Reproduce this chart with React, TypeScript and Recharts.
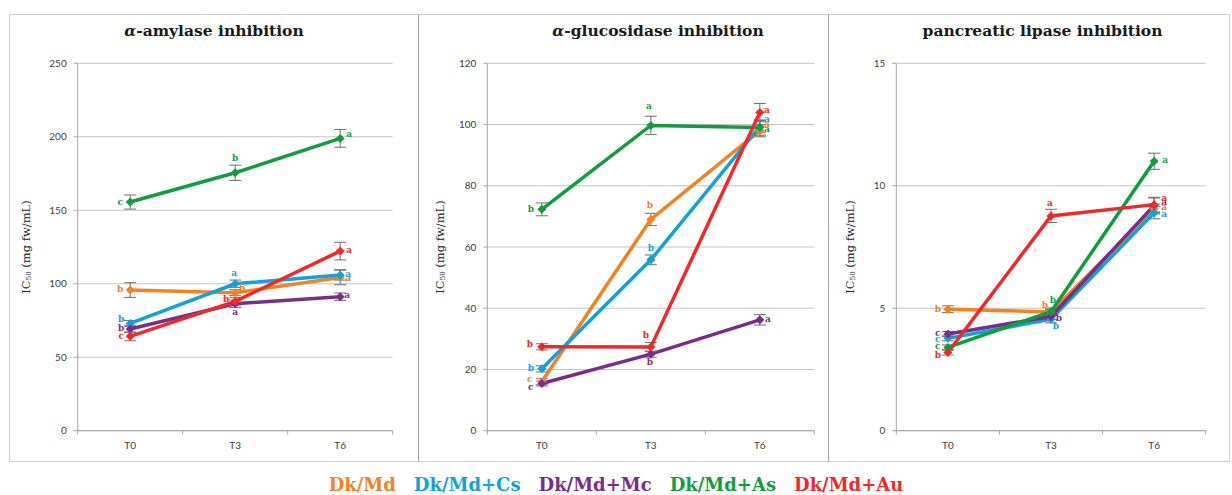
import React from "react"
import { LineChart, Line, XAxis, YAxis, CartesianGrid, ErrorBar, LabelList } from "recharts"

const timePoints = ["T0", "T3", "T6"]

// α-amylase
const amyMd = [95.7, 93.9, 104.3]
const amyMdErr = [5, 2, 5]
const amyMdSig = ["b", "b", "a"]
const amyCs = [73, 100, 106]
const amyCsErr = [2, 2.5, 3.5]
const amyCsSig = ["b", "a", "a"]
const amyMc = [69.2, 86.4, 91.2]
const amyMcErr = [2.5, 2.5, 2.5]
const amyMcSig = ["b", "a", "a"]
const amyAs = [155.6, 175.5, 198.9]
const amyAsErr = [4.8, 5.2, 6]
const amyAsSig = ["c", "b", "a"]
const amyAu = [64.2, 88, 122.2]
const amyAuErr = [3, 2.5, 6]
const amyAuSig = ["c", "b", "a"]

// α-glucosidase
const gluMd = [16, 69, 98]
const gluMdErr = [1, 2, 2]
const gluMdSig = ["c", "b", "a"]
const gluCs = [20.2, 55.8, 99.3]
const gluCsErr = [1, 1.6, 2]
const gluCsSig = ["b", "b", "a"]
const gluMc = [15.4, 25, 36.2]
const gluMcErr = [0.8, 1, 1.7]
const gluMcSig = ["c", "b", "a"]
const gluAs = [72.3, 99.7, 99]
const gluAsErr = [2.1, 3, 2.5]
const gluAsSig = ["b", "a", "a"]
const gluAu = [27.4, 27.3, 103.9]
const gluAuErr = [1, 1.5, 3]
const gluAuSig = ["b", "b", "a"]

// pancreatic lipase
const lipMd = [4.96, 4.85, 9.05]
const lipMdErr = [0.14, 0.1, 0.2]
const lipMdSig = ["b", "b", "a"]
const lipCs = [3.77, 4.55, 8.9]
const lipCsErr = [0.1, 0.15, 0.25]
const lipCsSig = ["c", "b", "a"]
const lipMc = [3.95, 4.66, 9.2]
const lipMcErr = [0.1, 0.12, 0.3]
const lipMcSig = ["c", "b", "a"]
const lipAs = [3.4, 4.86, 11.0]
const lipAsErr = [0.1, 0.15, 0.33]
const lipAsSig = ["c", "b", "a"]
const lipAu = [3.19, 8.77, 9.23]
const lipAuErr = [0.1, 0.27, 0.3]
const lipAuSig = ["b", "a", "a"]

const amyTicks = [0, 50, 100, 150, 200, 250]
const gluTicks = [0, 20, 40, 60, 80, 100, 120]
const lipTicks = [0, 5, 10, 15]

const seriesKeys = ["md", "cs", "mc", "as", "au"]
const seriesNames = ["Dk/Md", "Dk/Md+Cs", "Dk/Md+Mc", "Dk/Md+As", "Dk/Md+Au"]
const colors = ["#f6821f", "#0ea3dd", "#7a2c8a", "#0f9e3e", "#f52626"]

const buildRows = (vals: number[][], errs: number[][], sigs: string[][]) =>
	timePoints.map((t, i) => {
		const row: any = { t }
		seriesKeys.forEach((k, s) => {
			row[k] = vals[s][i]
			row[k + "_e"] = errs[s][i]
			row[k + "_l"] = sigs[s][i]
		})
		return row
	})

const amyRows = buildRows(
	[amyMd, amyCs, amyMc, amyAs, amyAu],
	[amyMdErr, amyCsErr, amyMcErr, amyAsErr, amyAuErr],
	[amyMdSig, amyCsSig, amyMcSig, amyAsSig, amyAuSig]
)
const gluRows = buildRows(
	[gluMd, gluCs, gluMc, gluAs, gluAu],
	[gluMdErr, gluCsErr, gluMcErr, gluAsErr, gluAuErr],
	[gluMdSig, gluCsSig, gluMcSig, gluAsSig, gluAuSig]
)
const lipRows = buildRows(
	[lipMd, lipCs, lipMc, lipAs, lipAu],
	[lipMdErr, lipCsErr, lipMcErr, lipAsErr, lipAuErr],
	[lipMdSig, lipCsSig, lipMcSig, lipAsSig, lipAuSig]
)

// letter placement next to each point, [dx, dy] per series per time point
const amyLetterPos = [
	[[-10, -1], [7, -5], [8, 1]],
	[[-9, -4], [-1, -11], [8, -1]],
	[[-9, -1], [0, 8], [7, -2]],
	[[-10, 0], [0, -15], [9, -4]],
	[[-9, 0], [-9, -2], [9, -1]],
]
const gluLetterPos = [
	[[-12, -3], [-1, -14], [7, -7]],
	[[-11, -1], [0, -12], [7, -8]],
	[[-11, 3], [-1, 8], [8, -1]],
	[[-11, 0], [-2, -19], [7, 1]],
	[[-12, -3], [-5, -12], [7, -3]],
]
const lipLetterPos = [
	[[-10, 0], [-6, -7], [10, -2]],
	[[-10, 1], [5, 7], [10, 1]],
	[[-10, -1], [8, 1], [10, -3]],
	[[-10, -1], [2, -12], [11, -1]],
	[[-10, 2], [-1, -13], [10, -7]],
]

const TOP = 14
const HEIGHT = 448
const PLOT_TOP = 63.3
const PLOT_BOTTOM = 430.7
const Y_AXIS_W = 40
const X_AXIS_H = 20
const AXIS_GRAY = "#a6a6a6"
const GRID_GRAY = "#c4c4c4"

type PanelProps = {
	rows: any[]
	ticks: number[]
	letterPos: number[][][]
	left: number
	width: number
	plotLeft: number
	plotRight: number
}

const diamond = (color: string) => (p: any) => {
	const r = 4.5
	return (
		<path
			key={`dot-${p.index}`}
			d={`M${p.cx},${p.cy - r}L${p.cx + r},${p.cy}L${p.cx},${p.cy + r}L${p.cx - r},${p.cy}Z`}
			fill={color}
		/>
	)
}

const letter = (color: string, pos: number[][]) => (p: any) => {
	const [dx, dy] = pos[p.index] || [0, 0]
	return (
		<text
			key={`lab-${p.index}`}
			x={p.x + dx}
			y={p.y + dy}
			textAnchor="middle"
			dominantBaseline="central"
			fontFamily="DejaVu Serif"
			fontWeight="bold"
			fontSize={9}
			fill={color}
		>
			{p.value}
		</text>
	)
}

const Panel: React.FC<PanelProps> = ({ rows, ticks, letterPos, left, width, plotLeft, plotRight }) => {
	const plotW = plotRight - plotLeft
	const half = plotW / 6
	const XTick = (p: any) => (
		<g>
			<line x1={p.x - half} x2={p.x - half} y1={p.y} y2={p.y + 4} stroke={AXIS_GRAY} />
			{p.index === timePoints.length - 1 && (
				<line x1={p.x + half} x2={p.x + half} y1={p.y} y2={p.y + 4} stroke={AXIS_GRAY} />
			)}
			<text x={p.x} y={p.y + 18} textAnchor="middle" fontFamily="Lato" fontSize={10} fill="#404040">
				{p.payload.value}
			</text>
		</g>
	)
	return (
		<div style={{ position: "absolute", left, top: TOP }}>
			<LineChart
				width={width}
				height={HEIGHT}
				data={rows}
				margin={{
					top: PLOT_TOP - TOP,
					left: plotLeft - left - Y_AXIS_W,
					right: left + width - plotRight,
					bottom: TOP + HEIGHT - PLOT_BOTTOM - X_AXIS_H,
				}}
			>
				<CartesianGrid vertical={false} stroke={GRID_GRAY} />
				<XAxis
					dataKey="t"
					height={X_AXIS_H}
					padding={{ left: half, right: half }}
					axisLine={{ stroke: AXIS_GRAY }}
					tickLine={false}
					tickSize={0}
					tickMargin={0}
					tick={XTick}
					interval={0}
				/>
				<YAxis
					width={Y_AXIS_W}
					domain={[ticks[0], ticks[ticks.length - 1]]}
					ticks={ticks}
					interval={0}
					axisLine={{ stroke: AXIS_GRAY }}
					tickLine={{ stroke: AXIS_GRAY }}
					tickSize={4}
					tickMargin={7}
					tick={{ fontFamily: "Lato", fontSize: 10, fill: "#404040" }}
				/>
				{seriesKeys.map((k, s) => (
					<Line
						key={k}
						dataKey={k}
						stroke={colors[s]}
						strokeWidth={3.5}
						dot={diamond(colors[s])}
						activeDot={false}
						isAnimationActive={false}
					>
						<ErrorBar dataKey={k + "_e"} width={6} stroke="#6f6f6f" strokeWidth={1} direction="y" />
						<LabelList dataKey={k + "_l"} content={letter(colors[s], letterPos[s])} />
					</Line>
				))}
			</LineChart>
		</div>
	)
}

const titles = [
	{ x: 214, text: "-amylase inhibition", alpha: true },
	{ x: 658, text: "-glucosidase inhibition", alpha: true },
	{ x: 1042.5, text: "pancreatic lipase inhibition", alpha: false },
]
const yLabelX = [26, 440, 850]

const App: React.FC = () => (
	<div style={{ position: "absolute", left: 0, top: 0, width: 1232, height: 495, background: "#fff" }}>
		<svg width={1232} height={495} style={{ position: "absolute", left: 0, top: 0 }}>
			<rect x={9.5} y={14.5} width={1220} height={447} fill="none" stroke="#cfcfcf" />
			<line x1={418.5} x2={418.5} y1={14.5} y2={461.5} stroke="#a0a0a0" />
			<line x1={828.5} x2={828.5} y1={14.5} y2={461.5} stroke="#a0a0a0" />
			{titles.map((t) => (
				<text
					key={t.x}
					x={t.x}
					y={36}
					textAnchor="middle"
					fontFamily="DejaVu Serif"
					fontWeight="bold"
					fontSize={15.5}
					fill="#1a1a1a"
				>
					{t.alpha && <tspan fontStyle="italic">α</tspan>}
					{t.text}
				</text>
			))}
			{yLabelX.map((x) => (
				<text
					key={x}
					transform={`translate(${x},247) rotate(-90)`}
					textAnchor="middle"
					dominantBaseline="central"
					fontFamily="DejaVu Serif"
					fontSize={11.5}
					fill="#262626"
				>
					IC
					<tspan fontSize={7} dy={3}>
						50
					</tspan>
					<tspan dy={-3}> (mg fw/mL)</tspan>
				</text>
			))}
		</svg>
		<Panel rows={amyRows} ticks={amyTicks} letterPos={amyLetterPos} left={9} width={409} plotLeft={77.7} plotRight={392.7} />
		<Panel rows={gluRows} ticks={gluTicks} letterPos={gluLetterPos} left={418} width={410} plotLeft={487.3} plotRight={814.3} />
		<Panel rows={lipRows} ticks={lipTicks} letterPos={lipLetterPos} left={828} width={401} plotLeft={896.3} plotRight={1205.7} />
		<div
			style={{
				position: "absolute",
				left: 0,
				top: 474,
				width: 1232,
				display: "flex",
				justifyContent: "center",
				gap: 18,
				fontFamily: "DejaVu Serif",
				fontWeight: "bold",
				fontSize: 18,
				lineHeight: "22px",
			}}
		>
			{seriesNames.map((n, i) => (
				<span key={n} style={{ color: colors[i] }}>
					{n}
				</span>
			))}
		</div>
	</div>
)

export default App
